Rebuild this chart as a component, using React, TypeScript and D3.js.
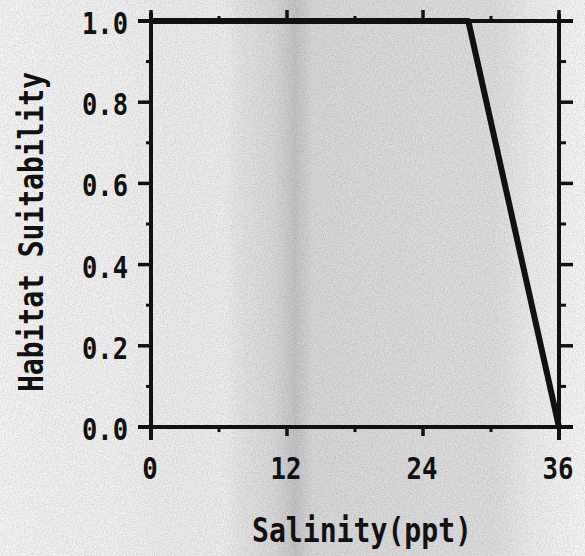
import React from "react";
import * as d3 from "d3";

// Habitat suitability index as a function of salinity
const salinity = [0, 28, 36];
const suitability = [1, 1, 0];

const xMajorTicks = [0, 12, 24, 36];
const xMinorTicks = [6, 18, 30];
const yMajorTicks = [0, 0.2, 0.4, 0.6, 0.8, 1.0];
const yMinorTicks = [0.1, 0.3, 0.5, 0.7, 0.9];

const xTitle = "Salinity(ppt)";
const yTitle = "Habitat Suitability";

const W = 585;
const H = 556;
const FONT = "'DejaVu Sans Mono', 'Liberation Mono', monospace";
const INK = "#111";

export default function App() {
  const x = d3.scaleLinear().domain([0, 36]).range([151, 559]);
  const y = d3.scaleLinear().domain([0, 1]).range([427, 21]);

  const line = d3
    .line<number>()
    .x((_, i) => x(salinity[i]))
    .y((d) => y(d))
    .curve(d3.curveLinear);

  const [x0, x1] = x.range();
  const [yb, yt] = y.range();

  // paper tone: a few soft vertical bands across the sheet
  const bands: [number, string][] = [
    [0, "#f6f6f6"],
    [0.2, "#f2f2f2"],
    [0.3, "#eeeeee"],
    [0.38, "#f0f0f0"],
    [0.42, "#e4e4e4"],
    [0.47, "#dadada"],
    [0.505, "#c6c6c6"],
    [0.535, "#dadada"],
    [0.7, "#dddddd"],
    [0.85, "#e0e0e0"],
    [0.91, "#eeeeee"],
    [0.97, "#f5f5f5"],
    [1, "#f7f7f7"],
  ];

  return (
    <svg
      width={W}
      height={H}
      style={{ position: "absolute", left: 0, top: 0, display: "block" }}
    >
      <defs>
        <linearGradient id="paper" x1="0" x2="1" y1="0" y2="0">
          {bands.map(([o, c], i) => (
            <stop key={i} offset={o} stopColor={c} />
          ))}
        </linearGradient>
        <filter id="grain" x="0" y="0" width="100%" height="100%">
          <feTurbulence type="fractalNoise" baseFrequency="0.9" numOctaves="2" seed="4" />
          <feColorMatrix
            type="matrix"
            values="0 0 0 0 0  0 0 0 0 0  0 0 0 0 0  0 0 0 -1.6 1.1"
          />
        </filter>
      </defs>

      <rect x={0} y={0} width={W} height={H} fill="url(#paper)" />
      <rect x={0} y={0} width={W} height={H} filter="url(#grain)" opacity={0.14} />

      {/* frame */}
      <g stroke={INK} strokeLinecap="butt" fill="none">
        <line x1={x0 - 13} x2={x1 + 14} y1={yt} y2={yt} strokeWidth={4} />
        <line x1={x0 - 13} x2={x1 + 14} y1={yb} y2={yb} strokeWidth={4} />
        <line x1={x0} x2={x0} y1={yt - 8} y2={yb + 13} strokeWidth={4} />
        <line x1={x1} x2={x1} y1={yt - 7} y2={yb + 13} strokeWidth={4} />

        {/* left axis ticks (outward) and right axis ticks (outward) */}
        {yMajorTicks.map((v) => (
          <g key={"ym" + v}>
            <line x1={x0 - 13} x2={x0} y1={y(v)} y2={y(v)} strokeWidth={3.5} />
            <line x1={x1} x2={x1 + 14} y1={y(v)} y2={y(v)} strokeWidth={3.5} />
          </g>
        ))}
        {yMinorTicks.map((v) => (
          <g key={"yn" + v}>
            <line x1={x0 - 5} x2={x0} y1={y(v)} y2={y(v)} strokeWidth={3} />
            <line x1={x1} x2={x1 + 7} y1={y(v)} y2={y(v)} strokeWidth={3} />
          </g>
        ))}

        {/* bottom ticks (down) and top ticks (up) */}
        {xMajorTicks.map((v) => (
          <g key={"xm" + v}>
            <line x1={x(v)} x2={x(v)} y1={yb} y2={yb + 9} strokeWidth={3.5} />
            <line x1={x(v)} x2={x(v)} y1={yt} y2={yt - 11} strokeWidth={3.5} />
          </g>
        ))}
        {xMinorTicks.map((v) => (
          <g key={"xn" + v}>
            <line x1={x(v)} x2={x(v)} y1={yb} y2={yb + 5} strokeWidth={3} />
            <line x1={x(v)} x2={x(v)} y1={yt} y2={yt - 5} strokeWidth={3} />
          </g>
        ))}
      </g>

      {/* suitability curve */}
      <path
        d={line(suitability) ?? ""}
        fill="none"
        stroke={INK}
        strokeWidth={6}
        strokeLinejoin="round"
      />

      {/* tick labels */}
      <g fontFamily={FONT} fontSize={31} fontWeight="bold" fill={INK}>
        {yMajorTicks.map((v) => (
          <text
            key={"yl" + v}
            x={128}
            y={y(v) + 13}
            textAnchor="end"
            textLength={46}
            lengthAdjust="spacingAndGlyphs"
          >
            {v.toFixed(1)}
          </text>
        ))}
        {xMajorTicks.map((v) => {
          const s = String(v);
          return (
            <text
              key={"xl" + v}
              x={x(v) - 1}
              y={479}
              textAnchor="middle"
              textLength={s.length * 15.5}
              lengthAdjust="spacingAndGlyphs"
            >
              {s}
            </text>
          );
        })}
      </g>

      {/* axis titles */}
      <text
        transform={`translate(43, 232) rotate(-90)`}
        textAnchor="middle"
        fontFamily={FONT}
        fontSize={34}
        fontWeight="bold"
        fill={INK}
        textLength={320}
        lengthAdjust="spacingAndGlyphs"
      >
        {yTitle}
      </text>
      <text
        x={362}
        y={542}
        textAnchor="middle"
        fontFamily={FONT}
        fontSize={34}
        fontWeight="bold"
        fill={INK}
        textLength={220}
        lengthAdjust="spacingAndGlyphs"
      >
        {xTitle}
      </text>
    </svg>
  );
}
